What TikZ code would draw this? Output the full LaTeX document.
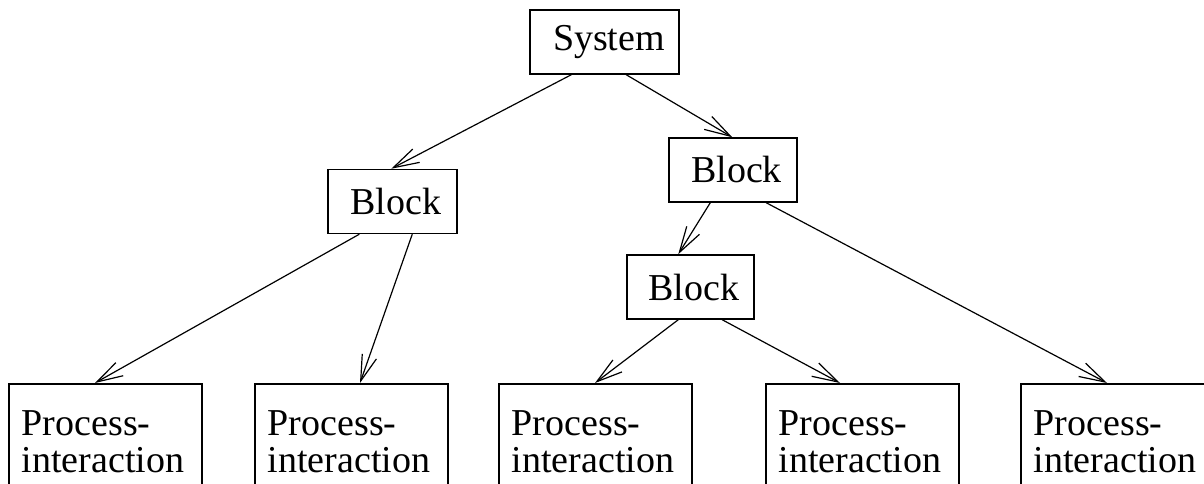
\documentclass[tikz,border=0pt]{standalone}
\usepackage{fontspec}
\setmainfont{Liberation Serif}
\usetikzlibrary{arrows.meta}

\begin{document}
\begin{tikzpicture}[x=1pt, y=-1pt,
  every node/.style={font=\fontsize{38}{37}\selectfont},
  box/.style={draw, line width=1.5pt, inner sep=0pt, minimum height=64pt},
  leafbox/.style={draw, line width=1.5pt, anchor=north west, align=left,
    text width=167pt, inner xsep=13pt, inner ysep=0pt,
    minimum width=193pt, minimum height=116pt},
  link/.style={line width=1.2pt,
    -{Straight Barb[length=26pt, width=15pt, line width=1.2pt]}}]

\useasboundingbox (0,0) rectangle (1204,484);

% upper levels of the hierarchy
\node[box, minimum width=149pt] (sys) at (604.5,42) {\hspace*{9pt}System};
\node[box, minimum width=128pt] (blkR) at (733,170) {\hspace*{7pt}Block};
\node[box, minimum width=129pt] (blkL) at (392.5,201.5) {\hspace*{7pt}Block};
\node[box, minimum width=127pt] (blkM) at (690.5,287) {\hspace*{7pt}Block};

% leaves
\node[leafbox] (p1) at (8,383)    {Process-\\interaction};
\node[leafbox] (p2) at (254,383)  {Process-\\interaction};
\node[leafbox] (p3) at (498,383)  {Process-\\interaction};
\node[leafbox] (p4) at (765,383)  {Process-\\interaction};
\node[leafbox] (p5) at (1020,383) {Process-\\interaction};

% connectors
\draw[link] ([xshift=42pt]sys.south west)  -- ([xshift=64pt]blkL.north west);
\draw[link] ([xshift=97pt]sys.south west)  -- ([xshift=64pt]blkR.north west);
\draw[link] ([xshift=42pt]blkR.south west) -- ([xshift=52pt]blkM.north west);
\draw[link] ([xshift=98pt]blkR.south west) -- ([xshift=87pt]p5.north west);
\draw[link] ([xshift=32pt]blkL.south west) -- ([xshift=87pt]p1.north west);
\draw[link] ([xshift=85pt]blkL.south west) -- ([xshift=106pt]p2.north west);
\draw[link] ([xshift=52pt]blkM.south west) -- ([xshift=97pt]p3.north west);
\draw[link] ([xshift=96pt]blkM.south west) -- ([xshift=75pt]p4.north west);

\end{tikzpicture}
\end{document}
